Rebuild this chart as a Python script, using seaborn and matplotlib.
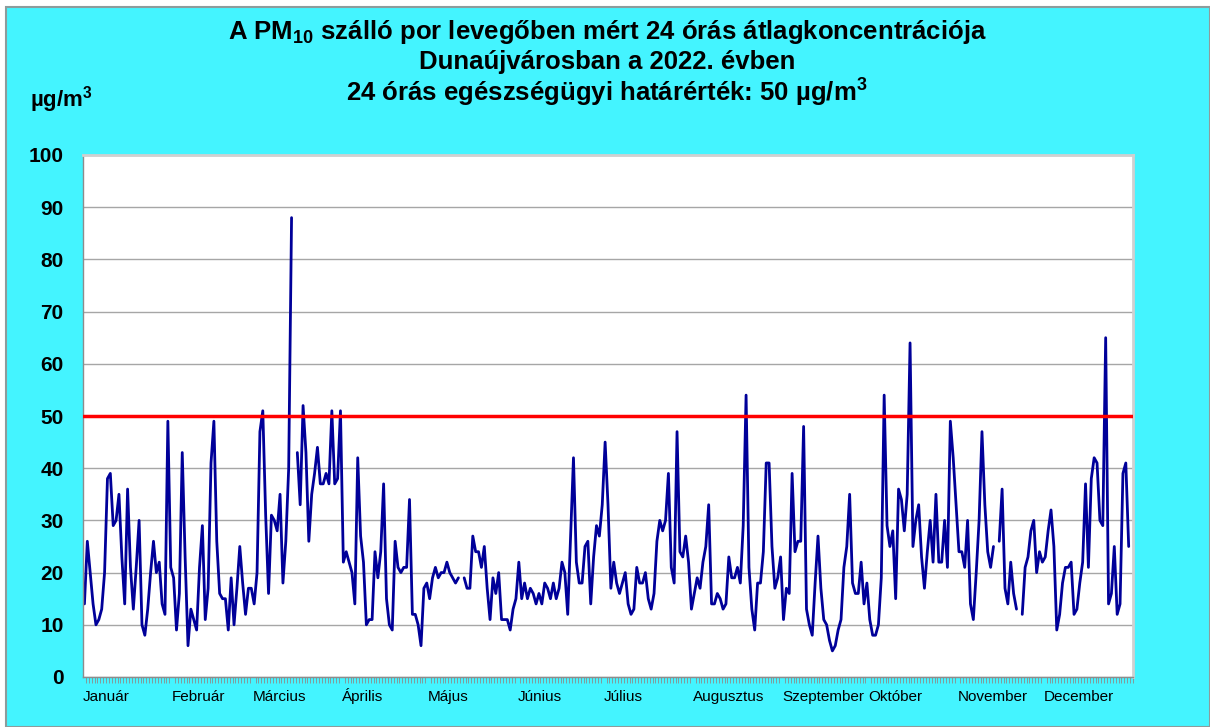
import numpy as np
import pandas as pd
import matplotlib
matplotlib.use('Agg')
import matplotlib.pyplot as plt
import matplotlib.patches as mpatches
import seaborn as sns

# Monthly labels and first day index (2022)
months = ['Január', 'Február', 'Március', 'Április', 'Május', 'Június',
          'Július', 'Augusztus', 'Szeptember', 'Október', 'November', 'December']
month_start = [0, 31, 59, 90, 120, 151, 181, 212, 243, 273, 304, 334]

limit_value = 50  # 24 órás egészségügyi határérték

nan = np.nan
# daily PM10 averages (nan = missing day)
pm10_jan_mar = [14, 26, 20, 14, 10, 11, 13, 20, 38, 39, 29, 30, 35, 23, 14, 36, 21, 13, 21, 30,
                10, 8, 13, 20, 26, 20, 22, 14, 12, 49, 21, 19, 9, 16, 43, 23, 6, 13, 11, 9,
                21, 29, 11, 17, 41, 49, 26, 16, 15, 15, 9, 19, 10, 17, 25, 18, 12, 17, 17, 14,
                20, 47, 51, 31, 16, 31, 30, 28, 35, 18, 26, 40, 88, nan, 43, 33, 52, 43, 26, 35,
                39, 44, 37, 37, 39, 37, 51, 37, 38, 51]
pm10_apr_jun = [22, 24, 22, 20, 14, 42, 27, 22, 10, 11, 11, 24, 19, 24, 37, 15, 10, 9, 26, 21,
                20, 21, 21, 34, 12, 12, 10, 6, 17, 18, 15, 19, 21, 19, 20, 20, 22, 20, 19, 18,
                19, nan, 19, 17, 17, 27, 24, 24, 21, 25, 17, 11, 19, 16, 20, 11, 11, 11, 9, 13,
                15, 22, 15, 18, 15, 17, 16, 14, 16, 14, 18, 17, 15, 18, 15, 17, 22, 20, 12, 27,
                42, 22, 18, 18, 25, 26, 14, 23, 29, 27, 33]
pm10_jul_sep = [45, 33, 17, 22, 18, 16, 18, 20, 14, 12, 13, 21, 18, 18, 20, 15, 13, 16, 26, 30,
                28, 30, 39, 21, 18, 47, 24, 23, 27, 22, 13, 16, 19, 17, 22, 25, 33, 14, 14, 16,
                15, 13, 14, 23, 19, 19, 21, 18, 29, 54, 21, 13, 9, 18, 18, 24, 41, 41, 25, 17,
                19, 23, 11, 17, 16, 39, 24, 26, 26, 48, 13, 10, 8, 18, 27, 17, 11, 10, 7, 5,
                6, 9, 11, 21, 25, 35, 18, 16, 16, 22, 14, 18]
pm10_oct_dec = [11, 8, 8, 10, 19, 54, 29, 25, 28, 15, 36, 34, 28, 35, 64, 25, 30, 33, 23, 17,
                24, 30, 22, 35, 22, 22, 30, 21, 49, 42, 33, 24, 24, 21, 30, 14, 11, 20, 30, 47,
                33, 24, 21, 25, nan, 26, 36, 17, 14, 22, 16, 13, nan, 12, 21, 23, 28, 30, 20, 24,
                22, 23, 28, 32, 25, 9, 12, 18, 21, 21, 22, 12, 13, 18, 22, 37, 21, 38, 42, 41,
                30, 29, 65, 14, 16, 25, 12, 14, 39, 41, 25, nan]

pm10 = pm10_jan_mar + pm10_apr_jun + pm10_jul_sep + pm10_oct_dec

df = pd.DataFrame({'day': np.arange(len(pm10)), 'pm10': pm10})
# separate line pieces so missing days leave a gap
df['seg'] = df['pm10'].isna().cumsum()
df = df.dropna()

sns.set_style('white')
plt.rcParams['font.family'] = ['Liberation Sans', 'DejaVu Sans']
plt.rcParams['text.color'] = 'black'
plt.rcParams['xtick.color'] = 'black'
plt.rcParams['ytick.color'] = 'black'
plt.rcParams['mathtext.fontset'] = 'custom'
plt.rcParams['mathtext.rm'] = 'Liberation Sans:bold'
plt.rcParams['mathtext.bf'] = 'Liberation Sans:bold'

W, H = 1210, 727
cyan = '#44F4FF'
fig = plt.figure(figsize=(W / 100, H / 100), dpi=100, facecolor='white')
fig.patches.append(mpatches.Rectangle((6 / W, 0), 1 - 6 / W, 1 - 7 / H, transform=fig.transFigure,
                                      facecolor=cyan, edgecolor='#8C9C9C', lw=1.5, zorder=-5))

ax = fig.add_axes([83 / W, 50 / H, 1050 / W, 522 / H])
ax.set_facecolor('white')

sns.lineplot(data=df, x='day', y='pm10', units='seg', estimator=None,
             color='#000099', linewidth=2, ax=ax, legend=False)
ax.axhline(limit_value, color='#FF0000', linewidth=2.5, zorder=3)

ax.set_xlim(-0.5, len(pm10) - 0.5)
ax.set_ylim(0, 100)
ax.set_yticks(np.arange(0, 101, 10))
ax.set_yticklabels([str(v) for v in range(0, 101, 10)], fontsize=15, fontweight='bold')
ax.tick_params(axis='y', length=0, pad=14)

# month names start at the first day of each month, daily minor ticks
ax.set_xticks([s - 0.5 for s in month_start])
ax.set_xticklabels(months, fontsize=11, ha='left', va='baseline')
ax.set_xticks(np.arange(-0.5, len(pm10)), minor=True)
ax.tick_params(axis='x', which='major', bottom=True, length=0, pad=17)
ax.tick_params(axis='x', which='minor', bottom=True, length=4, width=0.6,
               color='#8C8C8C', direction='out')

ax.yaxis.grid(True, color='#A6A6A6', linewidth=1)
ax.set_axisbelow(True)
ax.set_xlabel('')
ax.set_ylabel('')
for side in ['left', 'bottom']:
    ax.spines[side].set_color('#8C8C8C')
    ax.spines[side].set_linewidth(1)
for side in ['top', 'right']:
    ax.spines[side].set_color('#D0D0D0')
    ax.spines[side].set_linewidth(2)

title_lines = [r'A PM$_{10}$ szálló por levegőben mért 24 órás átlagkoncentrációja',
               'Dunaújvárosban a 2022. évben',
               r'24 órás egészségügyi határérték: 50 µg/m$^{3}$']
for i, line in enumerate(title_lines):
    fig.text(607 / W, 1 - (32 + 30 * i) / H, line, ha='center', va='center',
             fontsize=18.5, fontweight='bold')
fig.text(30 / W, 1 - 100 / H, r'µg/m$^{3}$', ha='left', va='center', fontsize=16, fontweight='bold')

fig.savefig('out.png', dpi=100, facecolor=fig.get_facecolor())
